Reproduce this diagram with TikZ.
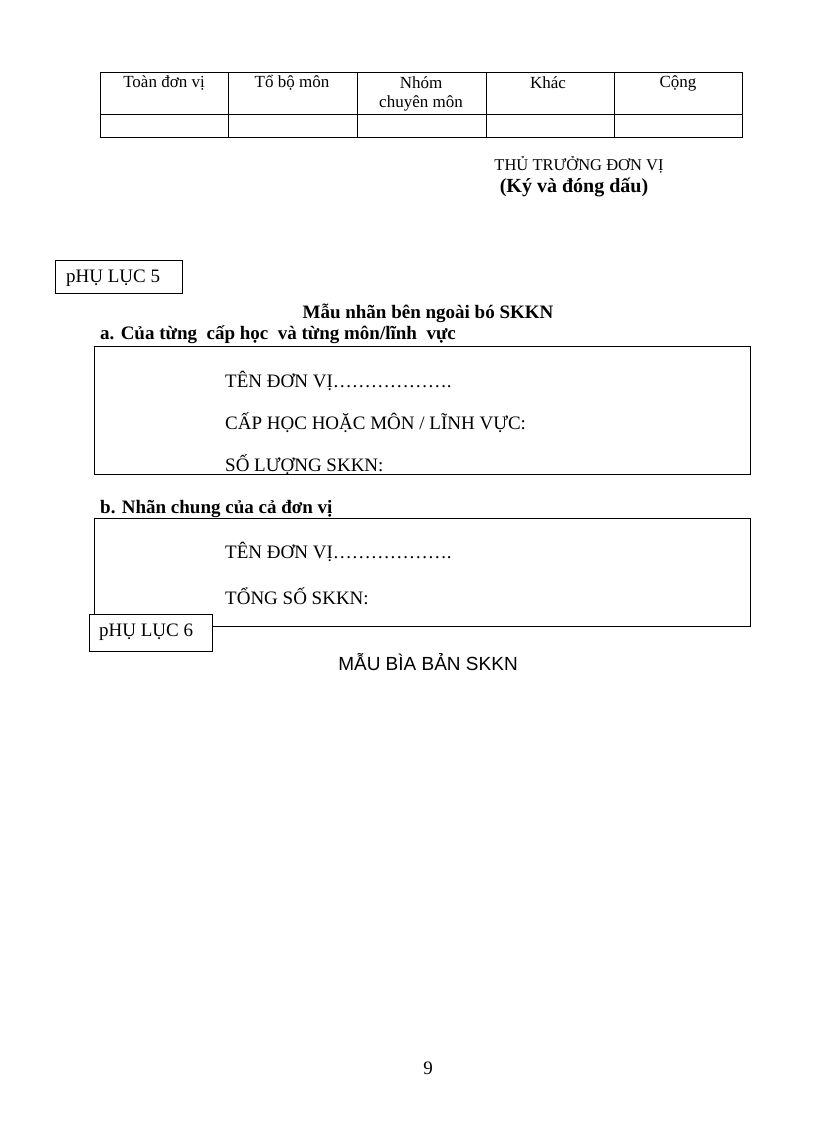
\documentclass[tikz,border=0pt]{standalone}
\usepackage{fontspec}
\setmainfont{Liberation Serif}
\newfontfamily\sansf{Liberation Sans}
\begin{document}
\begin{tikzpicture}[x=1pt,y=-1pt,
  txt/.style={inner sep=0pt,font=\fontsize{19}{22}\selectfont},
  tbl/.style={inner sep=0pt,font=\fontsize{17}{20}\selectfont},
  bld/.style={inner sep=0pt,font=\fontsize{19}{22}\selectfont\bfseries},
  lbl/.style={draw,fill=white,line width=0.8pt,inner sep=0pt,font=\fontsize{19}{22}\selectfont}]
\useasboundingbox (0,0) rectangle (816,1123);
% table
\draw[line width=0.8pt] (100,72) rectangle (742,137);
\draw[line width=0.8pt] (100,114) -- (742,114);
\foreach \x in {228,357,486,614} \draw[line width=0.8pt] (\x,72) -- (\x,137);
\node[tbl] (c1) at (164,83) {Toàn đơn vị};
\node[tbl] (c2) at (292,83) {Tổ bộ môn};
\node[tbl] (c3) at (421,83) {Nhóm};
\node[tbl] (c3b) at (421,103) {chuyên môn};
\node[tbl] (c4) at (548,83) {Khác};
\node[tbl] (c5) at (678,83) {Cộng};
\node[inner sep=0pt,font=\fontsize{16.5}{20}\selectfont] (tt) at (579,165) {THỦ TRƯỞNG ĐƠN VỊ};
\node[inner sep=0pt,font=\fontsize{20}{22}\selectfont\bfseries] (ky) at (574,187) {(Ký và đóng dấu)};
% phu luc 5
\draw[line width=0.8pt,fill=white] (55,260) rectangle (182,293);
\node[txt,anchor=west] (p5) at (66,278) {pHỤ LỤC 5};
\node[bld] (m1) at (428,313) {Mẫu nhãn bên ngoài bó SKKN};
\node[bld,anchor=west] (ha) at (100,335) {a. Của từng\ \ cấp học\ \ và từng môn/lĩnh\ \ vực};
\draw[line width=0.8pt] (94,346) rectangle (750,474);
\node[txt,anchor=west] (a1) at (225,381) {TÊN ĐƠN VỊ……………….};
\node[txt,anchor=west] (a2) at (225,423) {CẤP HỌC HOẶC MÔN / LĨNH VỰC:};
\node[txt,anchor=west] (a3) at (225,465) {SỐ LƯỢNG SKKN:};
\node[bld,anchor=west] (hb) at (100,509) {b. Nhãn chung của cả đơn vị};
\draw[line width=0.8pt] (94,518) rectangle (750,626);
\node[txt,anchor=west] (b1) at (225,552) {TÊN ĐƠN VỊ……………….};
\node[txt,anchor=west] (b2) at (225,596) {TỔNG SỐ SKKN:};
\draw[line width=0.8pt,fill=white] (89,614) rectangle (212,651);
\node[txt,anchor=west] (p6) at (99,632) {pHỤ LỤC 6};
\node[inner sep=0pt,font=\sansf\fontsize{19}{22}\selectfont] (bia) at (428,662) {MẪU BÌA BẢN SKKN};
\node[txt] (pg) at (428,1068) {9};
\end{tikzpicture}
\end{document}
